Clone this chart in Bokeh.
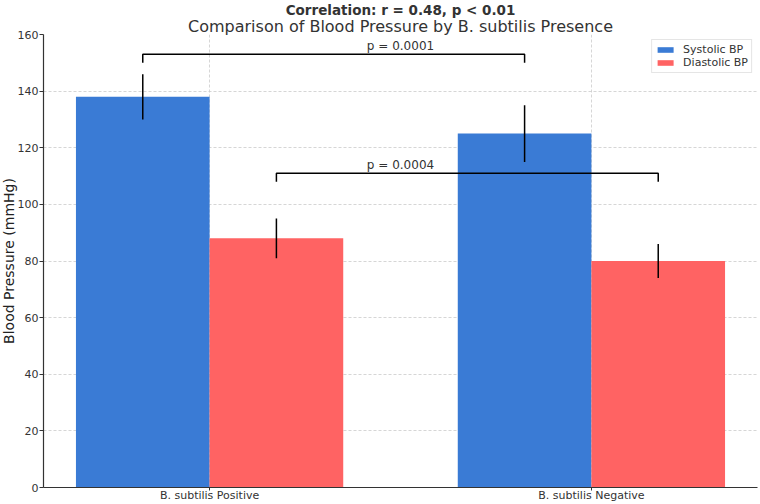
from bokeh.plotting import figure
from bokeh.models import (Range1d, FixedTicker, Title, Legend, LegendItem,
                          ColumnDataSource)
from bokeh.embed import file_html
from bokeh.resources import INLINE
from bokeh.core.properties import value

# Data
categories = ["B. subtilis Positive", "B. subtilis Negative"]
systolic = [138, 125]
systolic_err = [8, 10]
diastolic = [88, 80]
diastolic_err = [7, 6]
# significance brackets: (height, p-value text)
bracket_y = [153, 111]
bracket_text = ["p = 0.0001", "p = 0.0004"]
y_ticks = [0, 20, 40, 60, 80, 100, 120, 140, 160]

FONT = "DejaVu Sans"
BLUE = "#3a7bd5"
RED = "#ff6363"
bar_w = 0.35

idx = list(range(len(categories)))
xs_sys = [i - bar_w / 2 for i in idx]
xs_dia = [i + bar_w / 2 for i in idx]
x_mid = sum(idx) / len(idx)

p = figure(width=760, height=504, output_backend="svg", toolbar_location=None,
           x_range=Range1d(-0.435, 1.435), y_range=Range1d(0, 160),
           min_border_left=0, min_border_right=3, min_border_top=0,
           min_border_bottom=0)

p.title.text = "Correlation: r = 0.48, p < 0.01"
p.title.align = "center"
p.title.text_font = FONT
p.title.text_font_size = "13.5px"
p.title.text_font_style = "bold"
p.title.text_color = "#333333"
p.title.text_line_height = 1.0
p.title.standoff = -2
p.title.offset = 0
p.add_layout(Title(text="Comparison of Blood Pressure by B. subtilis Presence",
                   align="center", text_font=FONT, text_font_size="16px",
                   text_font_style="normal", text_color="#333333",
                   text_line_height=0.8, standoff=-3), "above")

# y-axis title as a rotated panel title on the left
p.add_layout(Title(text="Blood Pressure (mmHg)", align="center",
                   text_font=FONT, text_font_size="14px",
                   text_font_style="normal", text_color="#222222",
                   text_line_height=1.0, standoff=-4), "left")

src_s = ColumnDataSource(dict(x=xs_sys, top=systolic,
                              lo=[v - e for v, e in zip(systolic, systolic_err)],
                              hi=[v + e for v, e in zip(systolic, systolic_err)]))
src_d = ColumnDataSource(dict(x=xs_dia, top=diastolic,
                              lo=[v - e for v, e in zip(diastolic, diastolic_err)],
                              hi=[v + e for v, e in zip(diastolic, diastolic_err)]))

r_s = p.vbar(x="x", top="top", width=bar_w, bottom=0, source=src_s,
             fill_color=BLUE, line_color=None)
r_d = p.vbar(x="x", top="top", width=bar_w, bottom=0, source=src_d,
             fill_color=RED, line_color=None)

# error bars
for src in (src_s, src_d):
    p.segment(x0="x", y0="lo", x1="x", y1="hi", source=src,
              line_color="black", line_width=1.5)

# significance brackets, labels centred between the groups
pairs = [(xs_sys[0], xs_sys[1]), (xs_dia[0], xs_dia[1])]
for (x0, x1), yb, txt in zip(pairs, bracket_y, bracket_text):
    p.line(x=[x0, x0, x1, x1], y=[yb - 3, yb, yb, yb - 3],
           line_color="black", line_width=1.5)
    p.text(x=[x_mid], y=[yb + 3.0], text=[txt],
           text_align="center", text_baseline="alphabetic",
           text_font=value(FONT), text_font_size="12px", text_color="#333333")

# axes
p.yaxis.ticker = FixedTicker(ticks=y_ticks)
p.xaxis.ticker = FixedTicker(ticks=idx)
p.xaxis.major_label_overrides = {i: c for i, c in zip(idx, categories)}
for ax in (p.xaxis, p.yaxis):
    ax.major_label_text_font = FONT
    ax.major_label_text_font_size = "11px"
    ax.major_label_text_color = "#333333"
    ax.axis_line_color = "#333333"
    ax.axis_line_width = 1.2
    ax.major_tick_line_color = "#333333"
    ax.major_tick_in = 0
    ax.minor_tick_line_color = None
p.yaxis.major_tick_out = 4
p.xaxis.major_tick_out = 3
p.yaxis.major_label_standoff = 1
p.xaxis.major_label_standoff = -2

p.grid.grid_line_color = "#cccccc"
p.grid.grid_line_dash = "3 2"
p.grid.grid_line_alpha = 0.8
p.outline_line_color = None

legend = Legend(items=[LegendItem(label="Systolic BP", renderers=[r_s]),
                       LegendItem(label="Diastolic BP", renderers=[r_d])],
                location="top_right", label_text_font=FONT,
                label_text_font_size="11px", label_text_color="#333333",
                glyph_width=20, glyph_height=7, label_height=12,
                label_standoff=8, label_width=0,
                spacing=0, padding=3, margin=5,
                border_line_color="#cccccc", border_line_width=1,
                background_fill_alpha=0.85)
p.add_layout(legend)

open("out.html", "w").write(file_html(p, INLINE))
